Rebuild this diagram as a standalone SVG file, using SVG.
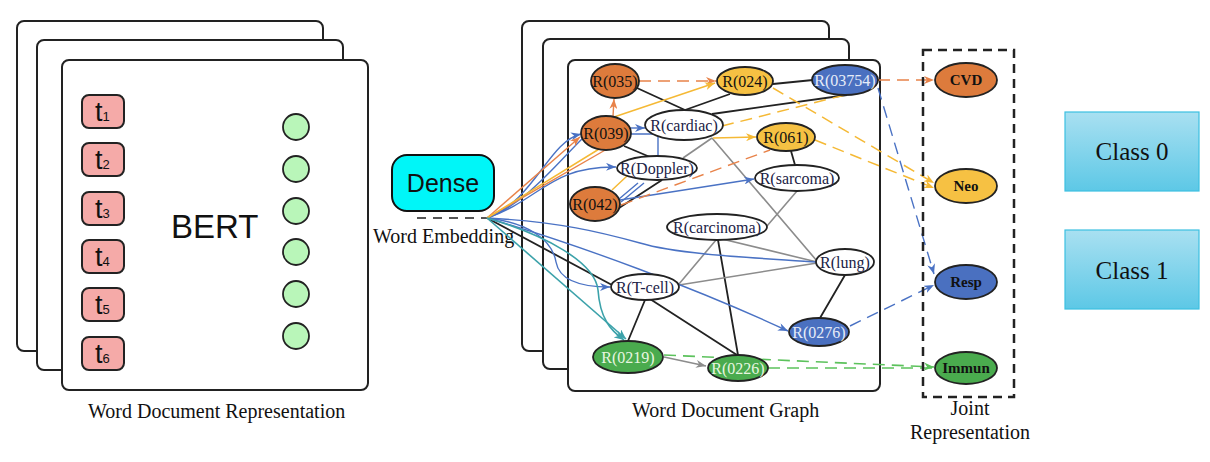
<svg xmlns="http://www.w3.org/2000/svg" width="1210" height="462" viewBox="0 0 1210 462">
<style>
.panel{fill:#fff;stroke:#222;stroke-width:2}
.tok{fill:#f5aaa8;stroke:#222;stroke-width:2}
.tt{font-family:"Liberation Sans",Arial,sans-serif;font-size:27px;fill:#111}
.emb{fill:#b9f6b9;stroke:#222;stroke-width:1.8}
.cap{font-family:"Liberation Serif","Times New Roman",serif;font-size:20px;fill:#111}
.nl{font-family:"Liberation Serif","Times New Roman",serif;font-size:16px;text-anchor:middle}
.jl{font-family:"Liberation Serif","Times New Roman",serif;font-size:15px;text-anchor:middle;font-weight:bold}
.or{fill:#dd7b3c;stroke:#222;stroke-width:1.8}
.ye{fill:#f6c143;stroke:#222;stroke-width:1.8}
.bl{fill:#4a70c0;stroke:#222;stroke-width:1.8}
.gr{fill:#4aab4e;stroke:#222;stroke-width:1.8}
.wh{fill:#fff;stroke:#222;stroke-width:1.8}
.dk{fill:#111}
.lt{fill:#e6ecf8}
.lg{fill:#e8f6e0}
.wt{fill:#1b2246}
.e{fill:none}
.k{stroke:#222;stroke-width:1.8}
.g{stroke:#8c8c8c;stroke-width:1.6}
.b{stroke:#4a72c4;stroke-width:1.4}
.o{stroke:#e8834a;stroke-width:1.4}
.y{stroke:#f5b935;stroke-width:1.5}
.t{stroke:#3ca2aa;stroke-width:1.6}
.gn{stroke:#5cc25c;stroke-width:1.6}
.d{stroke-dasharray:12 7}
.cls{fill:url(#cg);stroke:#3cc0e2;stroke-width:1.2}
.ct{font-family:"Liberation Serif","Times New Roman",serif;font-size:25px;text-anchor:middle;fill:#111}
</style>
<defs>
<linearGradient id="cg" x1="0" y1="0" x2="0" y2="1"><stop offset="0" stop-color="#a9e0f1"/><stop offset="1" stop-color="#5dc8e6"/></linearGradient>
<marker id="ab" viewBox="0 0 10 8" refX="10" refY="4" markerWidth="10" markerHeight="8" markerUnits="userSpaceOnUse" orient="auto"><path d="M0,0L10,4L0,8L3,4z" fill="#4a72c4"/></marker>
<marker id="ao" viewBox="0 0 10 8" refX="10" refY="4" markerWidth="10" markerHeight="8" markerUnits="userSpaceOnUse" orient="auto"><path d="M0,0L10,4L0,8L3,4z" fill="#e8834a"/></marker>
<marker id="ay" viewBox="0 0 10 8" refX="10" refY="4" markerWidth="10" markerHeight="8" markerUnits="userSpaceOnUse" orient="auto"><path d="M0,0L10,4L0,8L3,4z" fill="#f5b935"/></marker>
<marker id="at" viewBox="0 0 10 8" refX="10" refY="4" markerWidth="10" markerHeight="8" markerUnits="userSpaceOnUse" orient="auto"><path d="M0,0L10,4L0,8L3,4z" fill="#3ca2aa"/></marker>
<marker id="ag" viewBox="0 0 10 8" refX="10" refY="4" markerWidth="10" markerHeight="8" markerUnits="userSpaceOnUse" orient="auto"><path d="M0,0L10,4L0,8L3,4z" fill="#8c8c8c"/></marker>
<marker id="agn" viewBox="0 0 10 8" refX="10" refY="4" markerWidth="10" markerHeight="8" markerUnits="userSpaceOnUse" orient="auto"><path d="M0,0L10,4L0,8L3,4z" fill="#5cc25c"/></marker>
</defs>
<rect width="1210" height="462" fill="#fff"/>

<g id="doc-representation">
<rect class="panel" x="17" y="21" width="306" height="330" rx="7"/>
<rect class="panel" x="37" y="40" width="306" height="330" rx="7"/>
<rect class="panel" x="62" y="60" width="306" height="330" rx="7"/>
<text x="171" y="238" font-family="Liberation Sans,Arial,sans-serif" font-size="33" fill="#111">BERT</text>
<text class="cap" x="88" y="418">Word Document Representation</text>
</g>
<g id="tokens">
<rect class="tok" x="82" y="95" width="42" height="33" rx="7"/><text class="tt" x="95" y="121">t<tspan font-size="13">1</tspan></text>
<rect class="tok" x="82" y="143" width="42" height="33" rx="7"/><text class="tt" x="95" y="169">t<tspan font-size="13">2</tspan></text>
<rect class="tok" x="82" y="192" width="42" height="33" rx="7"/><text class="tt" x="95" y="218">t<tspan font-size="13">3</tspan></text>
<rect class="tok" x="82" y="240" width="42" height="33" rx="7"/><text class="tt" x="95" y="266">t<tspan font-size="13">4</tspan></text>
<rect class="tok" x="82" y="288" width="42" height="33" rx="7"/><text class="tt" x="95" y="314">t<tspan font-size="13">5</tspan></text>
<rect class="tok" x="82" y="337" width="42" height="33" rx="7"/><text class="tt" x="95" y="363">t<tspan font-size="13">6</tspan></text>
</g>
<g id="embeddings">
<circle class="emb" cx="296" cy="127" r="13"/>
<circle class="emb" cx="296" cy="169" r="13"/>
<circle class="emb" cx="296" cy="211" r="13"/>
<circle class="emb" cx="296" cy="252" r="13"/>
<circle class="emb" cx="296" cy="294" r="13"/>
<circle class="emb" cx="296" cy="336" r="13"/>
</g>

<g id="graph-panels">
<rect class="panel" x="522" y="21" width="307" height="330" rx="7"/>
<rect class="panel" x="543" y="39" width="306" height="330" rx="7"/>
<rect class="panel" x="568" y="60" width="312" height="331" rx="7"/>
<text class="cap" x="632" y="417">Word Document Graph</text>
</g>

<g id="dense">
<rect x="392" y="155" width="102" height="56" rx="15" fill="#00f6f8" stroke="#111" stroke-width="2"/>
<text x="443" y="192" font-family="Liberation Sans,Arial,sans-serif" font-size="25" text-anchor="middle" fill="#111">Dense</text>
<line x1="417" y1="218" x2="487" y2="218" stroke="#555" stroke-width="2" stroke-dasharray="9 7"/>
<text class="cap" x="373" y="243" font-size="19">Word Embedding</text>
</g>

<g id="connectors" class="e">
<path class="e k" d="M637,88L685,110M685,110L730,94M712,114L847,95M773,84L813,80M624,146L650,157M619,208L662,180M791,151L795,165M845,275L820,318M645,300L628,341M650,299L737,355M718,240L738,355M487,218L612,285"/>
<path class="e g" d="M712,138L817,261M712,138L683,158M797,191L767,226M716,240L679,284M722,239L817,262M679,285L817,263"/>
<path class="e g" d="M664,357L706,366" marker-end="url(#ag)"/>
<path class="e b" d="M630,128L645,128" marker-end="url(#ab)"/>
<path class="e b" d="M630,134H658V157M619,199L638,183M621,202L644,183"/>
<path class="e b" d="M487,218C540,200 550,166 616,167" marker-end="url(#ab)"/>
<path class="e b" d="M487,218C535,200 548,142 581,134" marker-end="url(#ab)"/>
<path class="e b" d="M487,218C525,205 560,160 583,138"/>
<path class="e b" d="M620,200L754,179" marker-end="url(#ab)"/>
<path class="e b" d="M487,218C560,222 600,232 640,243C680,255 760,258 817,262"/>
<path class="e b" d="M487,218C525,222 552,238 556,262C560,284 590,287 610,287" marker-end="url(#ab)"/>
<path class="e b" d="M487,218C580,245 700,290 788,331" marker-end="url(#ab)"/>
<path class="e b d" d="M878,88L934,274" marker-end="url(#ab)"/>
<path class="e b d" d="M850,326L934,285" marker-end="url(#ab)"/>
<path class="e o" d="M613,116L614,99" marker-end="url(#ao)"/>
<path class="e o d" d="M639,81L716,81" marker-end="url(#ao)"/>
<path class="e o" d="M487,218L580,137" marker-end="url(#ao)"/>
<path class="e o" d="M487,218L607,149"/>
<path class="e o d" d="M621,205L770,150"/>
<path class="e o d" d="M878,80L934,80" marker-end="url(#ao)"/>
<path class="e y" d="M614,117L715,83" marker-end="url(#ay)"/>
<path class="e y" d="M487,218L604,146M612,190L627,176"/>
<path class="e y" d="M713,138L756,137" marker-end="url(#ay)"/>
<path class="e y d" d="M722,126L845,95"/>
<path class="e y d" d="M773,88L934,183" marker-end="url(#ay)"/>
<path class="e y d" d="M815,140L934,188" marker-end="url(#ay)"/>
<path class="e t" d="M487,218L626,339" marker-end="url(#at)"/>
<path class="e t" d="M487,218C545,235 595,262 598,290C600,318 610,330 624,340" marker-end="url(#at)"/>
<path class="e gn d" d="M664,355L934,367" marker-end="url(#agn)"/>
<path class="e gn d" d="M768,368L934,368"/>
</g>

<g id="n-035"><ellipse class="or" cx="615" cy="81" rx="24" ry="17"/><text class="nl dk" x="615" y="86.5">R(035)</text></g>
<g id="n-024"><ellipse class="ye" cx="745" cy="81" rx="28" ry="14"/><text class="nl dk" x="745" y="86.5">R(024)</text></g>
<g id="n-03754"><ellipse class="bl" cx="845" cy="80" rx="33" ry="15"/><text class="nl lt" x="845" y="85.5">R(03754)</text></g>
<g id="n-039"><ellipse class="or" cx="606" cy="133" rx="25" ry="17"/><text class="nl dk" x="606" y="138.5">R(039)</text></g>
<g id="n-cardiac"><ellipse class="wh" cx="684" cy="125" rx="39" ry="15"/><text class="nl wt" x="684" y="130.5">R(cardiac)</text></g>
<g id="n-doppler"><ellipse class="wh" cx="657" cy="168" rx="40" ry="12"/><text class="nl wt" x="657" y="173.5">R(Doppler)</text></g>
<g id="n-042"><ellipse class="or" cx="595" cy="204" rx="25" ry="17"/><text class="nl dk" x="595" y="209.5">R(042)</text></g>
<g id="n-061"><ellipse class="ye" cx="786" cy="137" rx="29" ry="14"/><text class="nl dk" x="786" y="142.5">R(061)</text></g>
<g id="n-sarcoma"><ellipse class="wh" cx="797" cy="178" rx="42" ry="13"/><text class="nl wt" x="797" y="183.5">R(sarcoma)</text></g>
<g id="n-carcinoma"><ellipse class="wh" cx="717" cy="227" rx="50" ry="13"/><text class="nl wt" x="717" y="232.5">R(carcinoma)</text></g>
<g id="n-lung"><ellipse class="wh" cx="845" cy="262" rx="29" ry="13"/><text class="nl wt" x="845" y="267.5">R(lung)</text></g>
<g id="n-tcell"><ellipse class="wh" cx="645" cy="287" rx="34" ry="13"/><text class="nl wt" x="645" y="292.5">R(T-cell)</text></g>
<g id="n-0219"><ellipse class="gr" cx="628" cy="357" rx="35" ry="16"/><text class="nl lg" x="628" y="362.5">R(0219)</text></g>
<g id="n-0226"><ellipse class="gr" cx="738" cy="368" rx="30" ry="13"/><text class="nl lg" x="738" y="373.5">R(0226)</text></g>
<g id="n-0276"><ellipse class="bl" cx="819" cy="332" rx="30" ry="14"/><text class="nl lt" x="819" y="337.5">R(0276)</text></g>

<g id="joint-representation">
<rect x="923" y="50" width="91" height="347" fill="none" stroke="#222" stroke-width="2.5" stroke-dasharray="9 6"/>
<text class="cap" x="970" y="415" text-anchor="middle">Joint</text>
<text class="cap" x="970" y="439" text-anchor="middle">Representation</text>
</g>
<g id="n-cvd"><ellipse class="or" cx="966" cy="80" rx="31" ry="17"/><text class="jl dk" x="966" y="85">CVD</text></g>
<g id="n-neo"><ellipse class="ye" cx="966" cy="186" rx="31" ry="17"/><text class="jl dk" x="966" y="191">Neo</text></g>
<g id="n-resp"><ellipse class="bl" cx="966" cy="282" rx="31" ry="17"/><text class="jl dk" x="966" y="287">Resp</text></g>
<g id="n-immun"><ellipse class="gr" cx="966" cy="368" rx="31" ry="16"/><text class="jl dk" x="966" y="373">Immun</text></g>

<g id="class-0"><rect class="cls" x="1065" y="112" width="134" height="79"/><text class="ct" x="1132" y="160">Class 0</text></g>
<g id="class-1"><rect class="cls" x="1065" y="230" width="134" height="79"/><text class="ct" x="1132" y="279">Class 1</text></g>
</svg>
